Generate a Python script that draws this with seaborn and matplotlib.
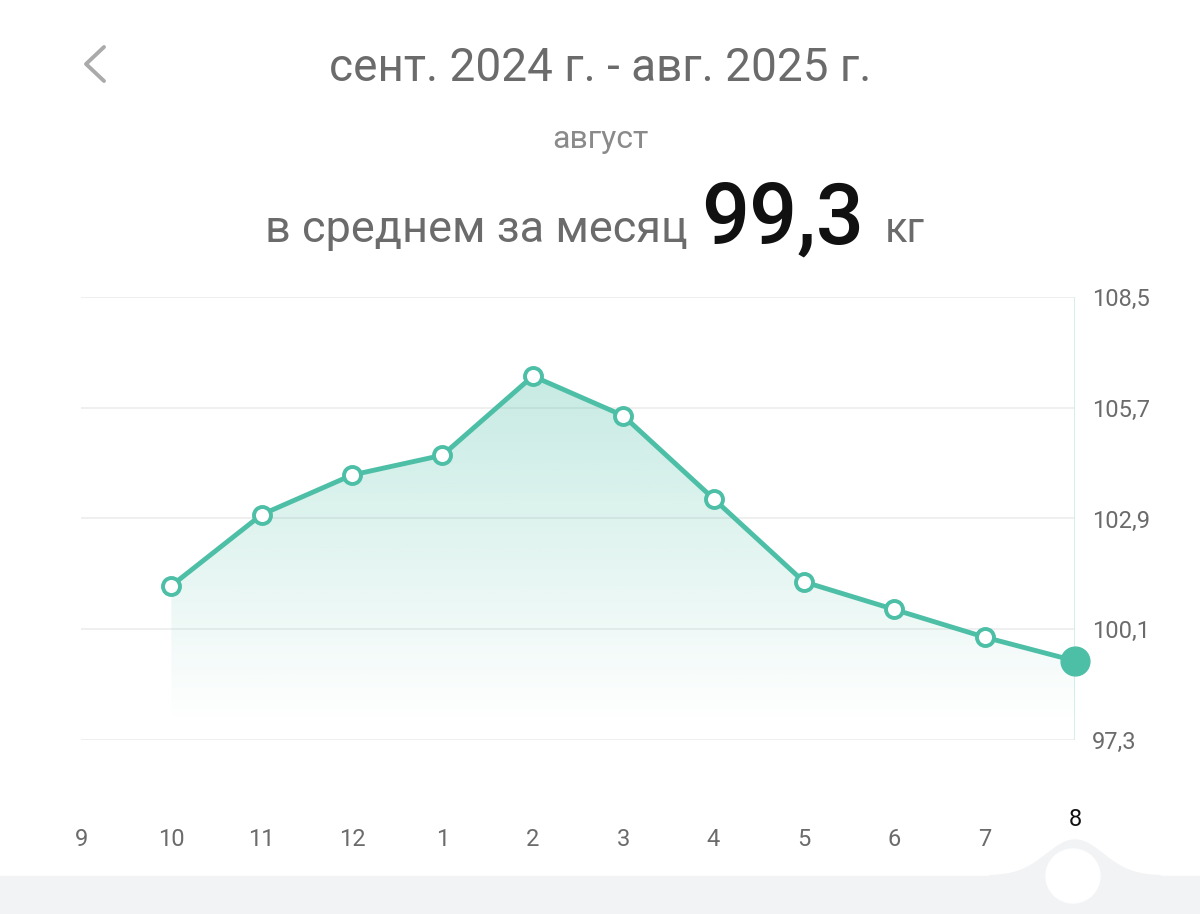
import matplotlib.pyplot as plt
import seaborn as sns
import numpy as np
import pandas as pd
from matplotlib.patches import Polygon, Ellipse, Rectangle
from matplotlib.lines import Line2D
from matplotlib.colors import to_rgb

months = ['9', '10', '11', '12', '1', '2', '3', '4', '5', '6', '7', '8']
weights = [np.nan, 101.2, 103.0, 104.0, 104.5, 106.5, 105.5, 103.4, 101.3, 100.6, 99.9, 99.3]
yticks = [97.3, 100.1, 102.9, 105.7, 108.5]
ytick_labels = ['97,3', '100,1', '102,9', '105,7', '108,5']

teal = '#4dbfa6'
grey = '#6b6b6b'

sns.set_style('white')
plt.rcParams['font.family'] = ['Roboto', 'DejaVu Sans']

fig = plt.figure(figsize=(12, 9.14), dpi=100)
ax = fig.add_axes([81 / 1200, 1 - 740 / 914, (1075 - 81) / 1200, 443 / 914])

df = pd.DataFrame({'x': range(len(months)), 'w': weights}).dropna()

# gradient fill under the line: light teal on top fading to white
floor = 97.75
rgba = np.zeros((256, 1, 4))
rgba[:, 0, :3] = to_rgb(teal)
rgba[:, 0, 3] = np.linspace(0.0, 0.32, 256)
img = ax.imshow(rgba, extent=[df.x.min(), df.x.max(), floor, 106.5], aspect='auto',
                origin='lower', zorder=1)
poly = Polygon(list(zip(df.x, df.w)) + [(df.x.max(), floor), (df.x.min(), floor)],
               closed=True, transform=ax.transData)
img.set_clip_path(poly)

for t in yticks:
    ax.axhline(t, color='#ececec', lw=1.2, zorder=0)
ax.axvline(11, color='#cdeee6', lw=1.2, zorder=0)

sns.lineplot(data=df, x='x', y='w', ax=ax, color=teal, lw=3.5, zorder=3)
ax.scatter(df.x[:-1], df.w[:-1], s=150, facecolor='white', edgecolor=teal, lw=2.8,
           zorder=4, clip_on=False)
ax.scatter(df.x[-1:], df.w[-1:], s=430, color=teal, zorder=5, clip_on=False)

ax.set_xlim(0, 11)
ax.set_ylim(97.3, 108.5)
ax.set_yticks(yticks)
ax.set_yticklabels(ytick_labels)
ax.yaxis.tick_right()
ax.tick_params(axis='y', length=0, pad=12, labelsize=17, labelcolor=grey)
ax.set_xticks(range(len(months)))
ax.set_xticklabels(months)
ax.tick_params(axis='x', length=0, pad=63, labelsize=17, labelcolor=grey)
ax.get_xticklabels()[-1].set_color('#111111')
ax.get_xticklabels()[-1].set_y(0.045)
ax.set_xlabel('')
ax.set_ylabel('')
sns.despine(ax=ax, left=True, bottom=True, right=True, top=True)

# bottom band with bump
fig.patches.append(Rectangle((0, 0), 1, 38 / 914, transform=fig.transFigure,
                             color='#f2f3f5', zorder=0))
bx = np.linspace(990, 1160, 120)
by = 38 + 36 * np.exp(-((bx - 1075) / 40) ** 2)
fig.patches.append(Polygon(np.column_stack([np.r_[bx, 1160, 990] / 1200,
                                            np.r_[by, 0, 0] / 914]),
                           transform=fig.transFigure, color='#f2f3f5', zorder=0))
fig.patches.append(Ellipse((1073 / 1200, 38 / 914), 54 / 1200, 54 / 914,
                           transform=fig.transFigure, color='white', zorder=1))

# back chevron
fig.lines.append(Line2D(np.array([104, 86, 104]) / 1200, 1 - np.array([47, 64, 81]) / 914,
                        transform=fig.transFigure, color='#aaaaaa', lw=2.8,
                        solid_capstyle='round', solid_joinstyle='round'))

# header texts
fig.text(600 / 1200, 1 - 68 / 914, 'сент. 2024 г. - авг. 2025 г.', fontsize=33, color=grey,
         ha='center', va='center')
fig.text(600 / 1200, 1 - 140 / 914, 'август', fontsize=23, color='#8a8a8a',
         ha='center', va='center')
fig.text(688 / 1200, 1 - 230 / 914, 'в среднем за месяц', fontsize=32.5, color=grey,
         ha='right', va='center')
fig.text(783 / 1200, 1 - 220 / 914, '99,3', fontsize=61, color='#111111',
         ha='center', va='center', fontweight='medium')
fig.text(885 / 1200, 1 - 230 / 914, 'кг', fontsize=30, color=grey, ha='left', va='center')

fig.savefig('out.png', dpi=100)
